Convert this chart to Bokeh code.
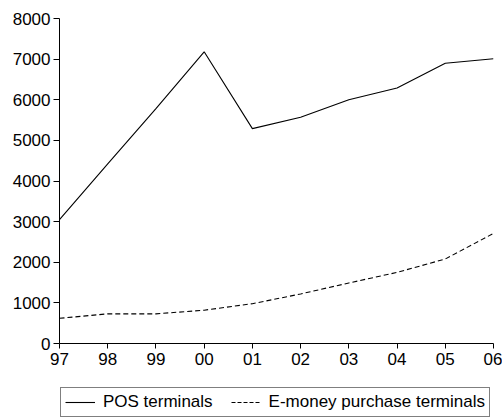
from bokeh.plotting import figure
from bokeh.layouts import column
from bokeh.models import FixedTicker, Legend, LegendItem, Range1d
from bokeh.embed import file_html
from bokeh.resources import INLINE

# Data
years = ["97", "98", "99", "00", "01", "02", "03", "04", "05", "06"]
pos_terminals = [3050, 4420, 5780, 7180, 5290, 5570, 6000, 6290, 6900, 7010]
emoney_purchase_terminals = [620, 730, 730, 820, 980, 1220, 1490, 1750, 2080, 2710]
y_ticks = [0, 1000, 2000, 3000, 4000, 5000, 6000, 7000, 8000]
series_names = ["POS terminals", "E-money purchase terminals"]

x = list(range(len(years)))
FONT = "Liberation Sans"
FS = "17px"

p = figure(width=502, height=380, output_backend="svg", toolbar_location=None,
           x_range=Range1d(x[0], x[-1]), y_range=Range1d(y_ticks[0], y_ticks[-1]),
           min_border_left=59, min_border_right=9, min_border_top=18, min_border_bottom=37)
p.outline_line_color = None
p.grid.visible = False

p.line(x, pos_terminals, line_color="black", line_width=1.1)
p.line(x, emoney_purchase_terminals, line_color="black", line_width=1.1, line_dash="5 3")

p.xaxis.ticker = FixedTicker(ticks=x)
p.xaxis.major_label_overrides = {i: years[i] for i in x}
p.yaxis.ticker = FixedTicker(ticks=y_ticks)

for ax in (p.xaxis, p.yaxis):
    ax.minor_tick_line_color = None
    ax.major_tick_in = 0
    ax.axis_line_color = "black"
    ax.major_tick_line_color = "black"
    ax.major_label_text_font = FONT
    ax.major_label_text_font_size = FS
    ax.major_label_text_color = "black"
p.xaxis.major_tick_out = 5
p.xaxis.major_label_standoff = 4
p.yaxis.major_tick_out = 6
p.yaxis.major_label_standoff = 3

# Legend strip below the chart (its lines lie outside its visible range;
# only the legend samples show)
lg = figure(width=502, height=40, output_backend="svg", toolbar_location=None,
            x_range=Range1d(x[0], x[-1]), y_range=Range1d(-2, -1),
            x_axis_type=None, y_axis_type=None,
            min_border_left=59, min_border_right=9, min_border_top=0, min_border_bottom=0)
lg.outline_line_color = None
lg.grid.visible = False
d1 = lg.line(x, pos_terminals, line_color="black", line_width=1.1)
d2 = lg.line(x, emoney_purchase_terminals, line_color="black", line_width=1.1, line_dash="4 2")

legend = Legend(items=[LegendItem(label=series_names[0], renderers=[d1]),
                       LegendItem(label=series_names[1], renderers=[d2])],
                orientation="horizontal", location=(1, 3),
                border_line_color="black", border_line_width=1,
                label_text_font=FONT, label_text_font_size=FS, label_text_color="black",
                glyph_width=30, glyph_height=18, label_standoff=8, spacing=18,
                padding=4, margin=0)
lg.add_layout(legend, "center")

layout = column(p, lg, spacing=0)
open("out.html", "w").write(file_html(layout, INLINE))
